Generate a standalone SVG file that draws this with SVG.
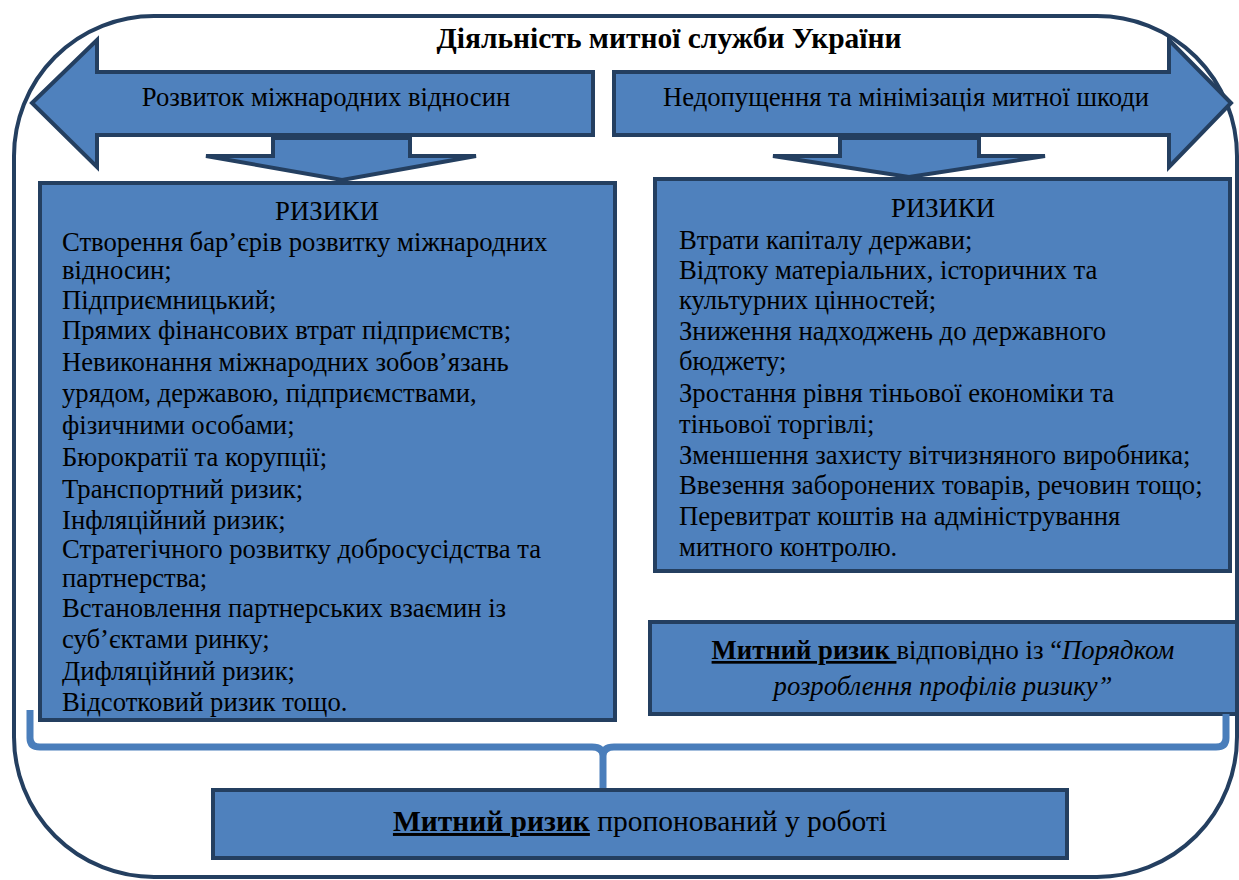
<svg xmlns="http://www.w3.org/2000/svg" width="1239" height="880" viewBox="0 0 1239 880">
<style>
.box{fill:#4f81bd;stroke:#243f60;stroke-width:4}
.arr{fill:#4f81bd;stroke:#243f60;stroke-width:4;stroke-linejoin:miter}
.t{font-family:"Liberation Serif","Times New Roman",serif;font-size:26.7px;fill:#000}
.c{text-anchor:middle}
.b{font-weight:bold}
.u{text-decoration:underline}
.i{font-style:italic}
.big{font-size:29.5px}
</style>
<rect width="1239" height="880" fill="#fff"/>
<g id="frame">
<rect x="14" y="16" width="1223" height="861" rx="140" ry="140" fill="none" stroke="#243f60" stroke-width="4"/>
<text class="t b c big" x="669" y="48">Діяльність митної служби України</text>
</g>
<g id="arrow-left">
<polygon class="arr" points="32,103 97,40 97,72 593,72 593,135 97,135 97,167"/>
<text class="t c" x="326" y="106">Розвиток міжнародних відносин</text>
</g>
<g id="arrow-right">
<polygon class="arr" points="1231,103 1169,40 1169,72 614,72 614,135 1169,135 1169,167"/>
<text class="t c" x="906" y="106">Недопущення та мінімізація митної шкоди</text>
</g>
<g id="down-left">
<polygon class="arr" points="273,138 410,138 410,156 476,156 342,180 206,156 273,156"/>
</g>
<g id="down-right">
<polygon class="arr" points="840,138 979,138 979,156 1045,156 909,177 773,156 840,156"/>
</g>
<g id="risks-left">
<rect class="box" x="40" y="183" width="575" height="537"/>
<text class="t c" x="327" y="220">РИЗИКИ</text>
<text class="t" x="62" y="251">Створення бар’єрів розвитку міжнародних</text>
<text class="t" x="62" y="279">відносин;</text>
<text class="t" x="62" y="309">Підприємницький;</text>
<text class="t" x="62" y="339">Прямих фінансових втрат підприємств;</text>
<text class="t" x="62" y="371">Невиконання міжнародних зобов’язань</text>
<text class="t" x="62" y="402">урядом, державою, підприємствами,</text>
<text class="t" x="62" y="434">фізичними особами;</text>
<text class="t" x="62" y="466">Бюрократії та корупції;</text>
<text class="t" x="62" y="498">Транспортний ризик;</text>
<text class="t" x="62" y="529">Інфляційний ризик;</text>
<text class="t" x="62" y="558">Стратегічного розвитку добросусідства та</text>
<text class="t" x="62" y="587">партнерства;</text>
<text class="t" x="62" y="617">Встановлення партнерських взаємин із</text>
<text class="t" x="62" y="648">суб’єктами ринку;</text>
<text class="t" x="62" y="680">Дифляційний ризик;</text>
<text class="t" x="62" y="711">Відсотковий ризик тощо.</text>
</g>
<g id="risks-right">
<rect class="box" x="655" y="179" width="575" height="392"/>
<text class="t c" x="943" y="217">РИЗИКИ</text>
<text class="t" x="679" y="249">Втрати капіталу держави;</text>
<text class="t" x="679" y="279">Відтоку матеріальних, історичних та</text>
<text class="t" x="679" y="309">культурних цінностей;</text>
<text class="t" x="679" y="340">Зниження надходжень до державного</text>
<text class="t" x="679" y="370">бюджету;</text>
<text class="t" x="679" y="402">Зростання рівня тіньової економіки та</text>
<text class="t" x="679" y="433">тіньової торгівлі;</text>
<text class="t" x="679" y="464">Зменшення захисту вітчизняного виробника;</text>
<text class="t" x="679" y="494">Ввезення заборонених товарів, речовин тощо;</text>
<text class="t" x="679" y="525">Перевитрат коштів на адміністрування</text>
<text class="t" x="679" y="556">митного контролю.</text>
</g>
<g id="risk-official">
<rect class="box" x="650" y="622" width="587" height="92"/>
<text class="t c" x="943" y="659"><tspan class="b u">Митний ризик </tspan>відповідно із “<tspan class="i">Порядком</tspan></text>
<text class="t c i" x="943" y="695">розроблення профілів ризику”</text>
</g>
<g id="connectors">
<path d="M30,710 V738 Q30,747 40,747 H592 Q603,747 603,756 V790 M603,756 Q603,747 614,747 H1216 Q1226,747 1226,738 V714" fill="none" stroke="#4a7ebb" stroke-width="7"/>
</g>
<g id="risk-proposed">
<rect class="box" x="213" y="790" width="854" height="68"/>
<text class="t c big" x="640" y="831"><tspan class="b u">Митний ризик</tspan> пропонований у роботі</text>
</g>
</svg>
